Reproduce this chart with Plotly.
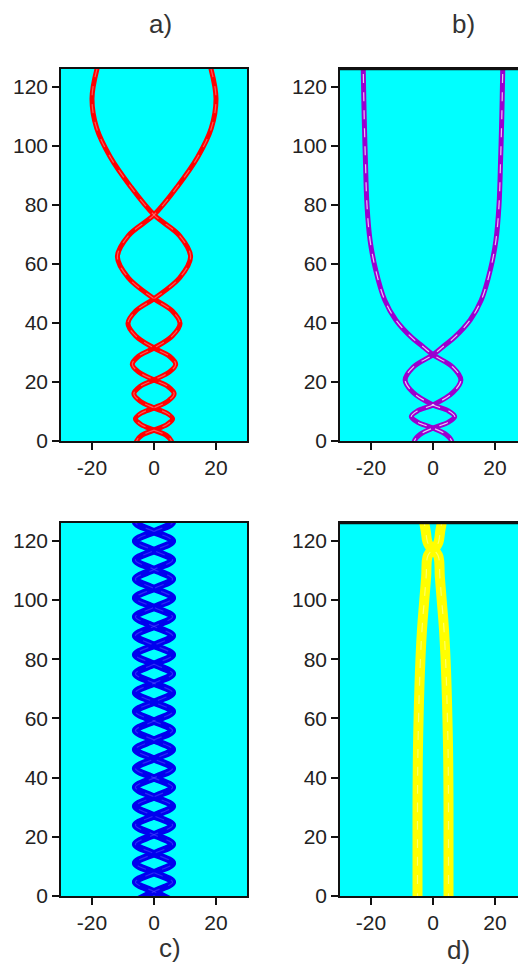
import plotly.graph_objects as go

# ---------------- data ----------------
# each panel: y (t) and x positions of one soliton; the partner is its mirror image
A_T = [-2.0, 0.0, 1.9, 3.7, 5.6, 7.5, 9.4, 11.2, 13.6, 16.0, 18.4, 20.7, 23.4, 26.0, 28.7,
       31.5, 35.6, 39.8, 44.0, 48.2, 55.3, 62.4, 69.5, 76.6, 86.4, 96.2, 106.0, 116.0, 126.0, 132.0]
A_X = [5.8, 5.6, 4.0, 0.0, -4.2, -6.0, -4.2, 0.0, 4.6, 6.5, 4.6, 0.0, -5.0, -7.0, -5.0,
       0.0, 5.9, 8.4, 5.9, 0.0, -8.3, -11.8, -8.3, 0.0, 7.7, 14.1, 18.5, 20.0, 18.4, 16.5]

B_T = [-2.0, 0.0, 2.2, 4.4, 6.4, 8.3, 10.2, 12.2, 16.4, 20.7, 25.0, 29.2, 32.0, 35.0,
       41.0, 47.8, 58.0, 68.0, 80.0, 95.0, 110.0, 126.0, 132.0]
B_X = [5.8, 6.0, 4.2, 0.0, -5.0, -7.0, -5.0, 0.0, 6.4, 9.0, 6.4, 0.0, -3.3, -6.8,
       -12.0, -15.6, -18.5, -20.3, -21.3, -21.8, -22.2, -22.5, -22.6]

C_T = [-1.7, 1.5, 4.7, 7.9, 11.1, 14.3, 17.5, 20.7, 23.9, 27.1, 30.3, 33.5, 36.7, 39.9,
       43.1, 46.3, 49.5, 52.7, 55.9, 59.1, 62.3, 65.5, 68.7, 71.9, 75.1, 78.3, 81.5, 84.7,
       87.9, 91.1, 94.3, 97.5, 100.7, 103.9, 107.1, 110.3, 113.5, 116.7, 119.9, 123.1,
       126.3, 129.5]
C_X = [6.0, 0.0, -6.0, 0.0, 6.0, 0.0, -6.0, 0.0, 6.0, 0.0, -6.0, 0.0, 6.0, 0.0,
       -6.0, 0.0, 6.0, 0.0, -6.0, 0.0, 6.0, 0.0, -6.0, 0.0, 6.0, 0.0, -6.0, 0.0,
       6.0, 0.0, -6.0, 0.0, 6.0, 0.0, -6.0, 0.0, 6.0, 0.0, -6.0, 0.0,
       6.0, 0.0]

D_T = [-2.0, 0.0, 10.0, 20.0, 30.0, 40.0, 50.0, 60.0, 70.0, 80.0, 90.0, 100.0, 108.0,
       114.5, 117.0, 119.6, 123.0, 126.0, 130.0]
D_X = [-5.0, -5.0, -5.0, -5.0, -5.0, -4.95, -4.85, -4.65, -4.4, -4.05, -3.55, -2.8, -2.2,
       -1.8, -0.7, -1.8, -2.3, -2.8, -3.3]

X_TICKS = [-20, 0, 20]
X_TICK_TEXT = ["-20", "0", "20"]
Y_TICKS = [0, 20, 40, 60, 80, 100, 120]
PANEL_LABELS = ["a)", "b)", "c)", "d)"]

# ---------------- figure ----------------
W, H = 518, 966
BG = "#00ffff"
FONT = "Liberation Sans, Arial, sans-serif"

fig = go.Figure()

panels = [
    (A_T, A_X, "#ff0000", 5, "rgba(255,190,190,0.45)", "x", "y", 1.0),
    (B_T, B_X, "#9b00cf", 5, "rgba(255,255,255,0.75)", "x2", "y2", 1.0),
    (C_T, C_X, "#0000ee", 7, "rgba(90,90,255,0.45)", "x3", "y3", 1.0),
    (D_T, D_X, "#ffff00", 10, "rgba(255,255,210,0.5)", "x4", "y4", 1.3),
]

for t, xs, col, wid, core, xa, ya, sm in panels:
    mirror = [-v for v in xs]
    for xx in (xs, mirror):
        fig.add_trace(go.Scatter(x=xx, y=t, mode="lines", xaxis=xa, yaxis=ya,
                                 line=dict(color=col, width=wid, shape="spline", smoothing=sm),
                                 hoverinfo="skip", showlegend=False))
    for xx in (xs, mirror):
        fig.add_trace(go.Scatter(x=xx, y=t, mode="lines", xaxis=xa, yaxis=ya,
                                 line=dict(color=core, width=1.2, shape="spline", smoothing=sm,
                                           dash="dash"),
                                 hoverinfo="skip", showlegend=False))


def px_x(p):
    return p / W


def px_y(p):
    return 1 - p / H


top_row = [px_y(441), px_y(69)]
bot_row = [px_y(896), px_y(523)]
left_col = [px_x(61), px_x(247)]
right_col = [px_x(340), 1.0]

tickfont = dict(family=FONT, size=21, color="#222")

common_x = dict(tickmode="array", tickvals=X_TICKS, ticktext=X_TICK_TEXT, ticks="outside",
                ticklen=7, tickwidth=1.5, tickcolor="#111", showline=True, linecolor="#111",
                linewidth=1.5, mirror=True, showgrid=False, zeroline=False, tickfont=tickfont,
                fixedrange=True, automargin=False)
common_y = dict(tickmode="array", tickvals=Y_TICKS, ticks="outside", ticklen=7, tickwidth=1.5,
                tickcolor="#111", showline=True, linecolor="#111", linewidth=1.5,
                showgrid=False, zeroline=False, tickfont=tickfont, range=[0, 126],
                fixedrange=True, automargin=False)

right_range = [-30, -30 + (W - 340) / 3.1]

fig.update_layout(
    width=W, height=H, margin=dict(l=0, r=0, t=0, b=0, autoexpand=False),
    paper_bgcolor="white", plot_bgcolor=BG, showlegend=False,
    xaxis=dict(common_x, domain=left_col, range=[-30, 30], anchor="y"),
    yaxis=dict(common_y, domain=top_row, anchor="x", mirror=True),
    xaxis2=dict(common_x, domain=right_col, range=right_range, anchor="y2"),
    yaxis2=dict(common_y, domain=top_row, anchor="x2", mirror=False),
    xaxis3=dict(common_x, domain=left_col, range=[-30, 30], anchor="y3"),
    yaxis3=dict(common_y, domain=bot_row, anchor="x3", mirror=True),
    xaxis4=dict(common_x, domain=right_col, range=right_range, anchor="y4"),
    yaxis4=dict(common_y, domain=bot_row, anchor="x4", mirror=False),
)

# thicker top border on the right-hand panels
for xr, yr in (("x2 domain", "y2 domain"), ("x4 domain", "y4 domain")):
    fig.add_shape(type="line", xref=xr, yref=yr, x0=0, x1=1, y0=1, y1=1,
                  line=dict(color="#111", width=2.5))

label_pos = [(160, 24), (463, 24), (170, 948), (458, 950)]
for lab, (lx, ly) in zip(PANEL_LABELS, label_pos):
    fig.add_annotation(text=lab, x=px_x(lx), y=px_y(ly), xref="paper", yref="paper",
                       showarrow=False, xanchor="center", yanchor="middle",
                       font=dict(family=FONT, size=26, color="#333"))

fig.write_html("out.html", config={"displayModeBar": False},
               post_script="document.body.style.margin='0';document.body.style.overflow='hidden';")
